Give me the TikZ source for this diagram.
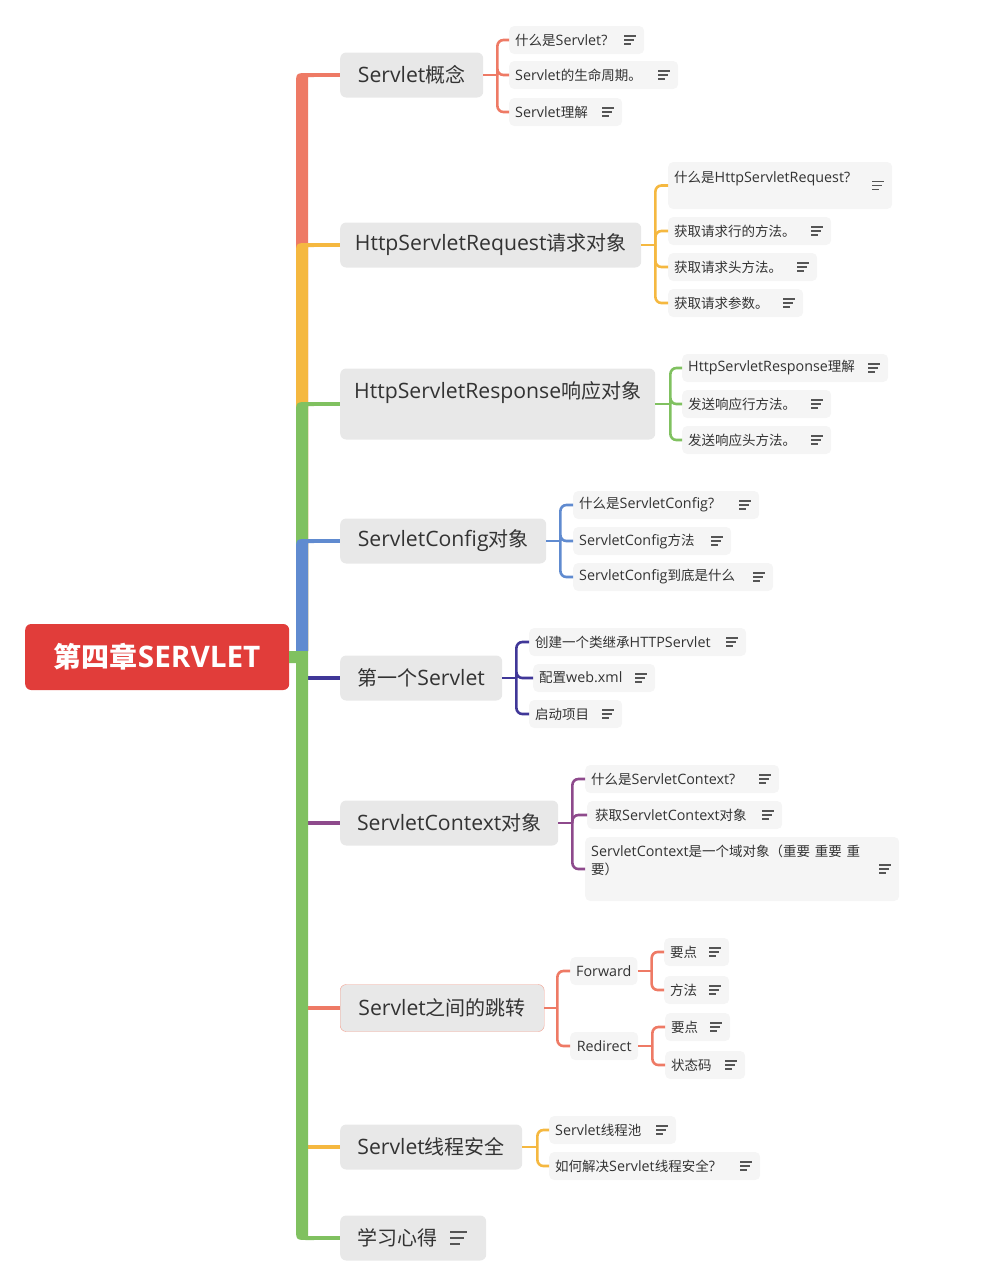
\documentclass[tikz,border=0pt]{standalone}
\usepackage{fontspec}
\setmainfont{Open Sans}[Scale=1.06]
\newfontfamily\cjkfont{Noto Sans CJK SC}
% Han characters and full-width punctuation go to the CJK face
\XeTeXinterchartokenstate=1
\newXeTeXintercharclass\cjkcls
\newcount\cjkcnt
\newcommand\cjkrange[2]{\cjkcnt=#1\relax
  \loop\XeTeXcharclass\cjkcnt=\cjkcls
  \ifnum\cjkcnt<#2\relax\advance\cjkcnt by 1\repeat}
\cjkrange{"3000}{"303F}
\cjkrange{"4E00}{"9FFF}
\cjkrange{"FF00}{"FFEF}
\XeTeXinterchartoks 0 \cjkcls = {\begingroup\cjkfont}
\XeTeXinterchartoks 4095 \cjkcls = {\begingroup\cjkfont}
\XeTeXinterchartoks \cjkcls 0 = {\endgroup}
\XeTeXinterchartoks \cjkcls 4095 = {\endgroup}

\definecolor{rootred}{RGB}{225,61,58}
\definecolor{maingray}{RGB}{232,232,232}
\definecolor{subgray}{RGB}{245,245,245}
\definecolor{txt}{RGB}{51,51,51}
\definecolor{notegray}{RGB}{85,85,85}
\definecolor{salmon}{RGB}{238,122,101}
\definecolor{amber}{RGB}{245,184,64}
\definecolor{leaf}{RGB}{128,193,96}
\definecolor{sky}{RGB}{96,139,208}
\definecolor{indigo}{RGB}{64,55,152}
\definecolor{plum}{RGB}{142,74,140}
\definecolor{pinkline}{RGB}{242,160,144}

\tikzset{
  rootbox/.style={fill=rootred, rounded corners=6, minimum width=264, minimum height=66, anchor=west, inner sep=0, text=white, font=\fontsize{28}{32}\selectfont\bfseries},
  main/.style={fill=maingray, rounded corners=6, minimum height=45, inner xsep=0, inner ysep=0, anchor=west, text=txt, font=\fontsize{20}{24}\selectfont},
  sub/.style={fill=subgray, rounded corners=5, minimum height=28, inner xsep=6, inner ysep=0, anchor=west, align=left, text=txt, font=\fontsize{13.5}{18}\selectfont},
  link/.style={draw=#1, line width=4},
  br/.style={draw=#1, line width=2.6, rounded corners=6},
  noteline/.style={draw=notegray, line width=1.3},
}

% thick trunk piece going up from the root to a branch at height #2
\newcommand\trunkup[2]{\fill[#1] (296,651) -- (296,#2+10) .. controls (296,#2-2) .. (308,#2-2) -- (314,#2-2) -- (314,#2+2) -- (308,#2+2) -- (308,651) -- cycle;}
% note mark at the right end of a topic
\newcommand\notemark[1]{\draw[noteline] (#1.east) ++(-20,-4) -- ++(12,0) (#1.east) ++(-20,0) -- ++(10,0) (#1.east) ++(-20,4) -- ++(7,0);}

\begin{document}
\begin{tikzpicture}[x=1pt,y=1pt,yscale=-1]
\useasboundingbox (0,0) rectangle (987,1275);

% Root
\node[rootbox] (root) at (25,657) {第四章SERVLET};

% Main topics
\node[main, minimum width=143] (c1) at (340,75) {Servlet概念};
\node[main, minimum width=301] (c2) at (340,245) {HttpServletRequest请求对象};
\node[main, minimum width=315, text height=30pt, text depth=41pt] (c3) at (340,404) {HttpServletResponse响应对象};
\node[main, minimum width=206] (c4) at (340,541) {ServletConfig对象};
\node[main, minimum width=162] (c5) at (340,678) {第一个Servlet};
\node[main, minimum width=218] (c6) at (340,823) {ServletContext对象};
\node[main, minimum width=204, minimum height=47, draw=pinkline] (c7) at (340,1008) {Servlet之间的跳转};
\node[main, minimum width=182] (c8) at (340,1147) {Servlet线程安全};
\node[main, inner xsep=17, text width=112pt, align=left] (c9) at (340,1238) {学习心得};

% Subtopics
\node[sub, text width=123pt] (s11) at (509,40) {什么是Servlet?};
\node[sub, text width=157pt] (s12) at (509,75) {Servlet的生命周期。};
\node[sub, text width=101pt] (s13) at (509,112) {Servlet理解};

\node[sub, text width=212pt, text height=20pt, text depth=27pt] (s21) at (668,185.5) {什么是HttpServletRequest?};
\node[sub, text width=151pt] (s22) at (668,231) {获取请求行的方法。};
\node[sub, text width=137pt] (s23) at (668,267) {获取请求头方法。};
\node[sub, text width=123pt] (s24) at (668,303) {获取请求参数。};

\node[sub, text width=194pt] (s31) at (682,368) {HttpServletResponse理解};
\node[sub, text width=137pt] (s32) at (682,404) {发送响应行方法。};
\node[sub, text width=137pt] (s33) at (682,440) {发送响应头方法。};

\node[sub, text width=174pt] (s41) at (573,505) {什么是ServletConfig?};
\node[sub, text width=146pt] (s42) at (573,541) {ServletConfig方法};
\node[sub, text width=188pt] (s43) at (573,577) {ServletConfig到底是什么};

\node[sub, text width=205pt] (s51) at (529,642) {创建一个类继承HTTPServlet};
\node[sub, text width=110pt] (s52) at (533,678) {配置web.xml};
\node[sub, text width=81pt] (s53) at (529,714) {启动项目};

\node[sub, text width=182pt] (s61) at (585,779) {什么是ServletContext?};
\node[sub, inner xsep=8, text width=179pt] (s62) at (587,815) {获取ServletContext对象};
\node[sub, text width=302pt, text height=19pt, text depth=45pt] (s63) at (585,869) {ServletContext是一个域对象（重要 重要 重\\要）};

\node[sub, minimum width=67] (s71) at (570,971) {Forward};
\node[sub, minimum width=68] (s72) at (570,1046) {Redirect};
\node[sub, text width=53pt] (s711) at (664,952) {要点};
\node[sub, text width=53pt] (s712) at (664,990) {方法};
\node[sub, text width=53pt] (s721) at (665,1027) {要点};
\node[sub, text width=68pt] (s722) at (665,1065) {状态码};

\node[sub, text width=115pt] (s81) at (549,1130) {Servlet线程池};
\node[sub, text width=199pt] (s82) at (549,1166) {如何解决Servlet线程安全?};

% Trunk
\trunkup{salmon}{75}
\trunkup{amber}{245}
\trunkup{leaf}{404}
\trunkup{sky}{541}
\coordinate (k1) at (310,75);
\coordinate (k2) at (310,245);
\coordinate (k3) at (310,404);
\coordinate (k4) at (310,541);
\coordinate (k5) at (300,678);
\coordinate (k6) at (300,823);
\coordinate (k7) at (300,1008);
\coordinate (k8) at (300,1147);
\coordinate (k9) at (310,1238);
\draw[link=indigo] (k5) -- (c5.west);
\draw[link=plum] (k6) -- (c6.west);
\draw[link=salmon] (k7) -- (c7.west);
\draw[link=amber] (k8) -- (c8.west);
\fill[leaf] (289,651) -- (308,651) -- (308,1236) -- (314,1236) -- (314,1240) -- (308,1240) .. controls (296,1240) .. (296,1228) -- (296,663) -- (289,663) -- cycle;
\draw[link=salmon] (k1) -- (c1.west);
\draw[link=amber] (k2) -- (c2.west);
\draw[link=leaf] (k3) -- (c3.west);
\draw[link=sky] (k4) -- (c4.west);
\draw[link=leaf] (k9) -- (c9.west);

% Brackets
\coordinate (b1) at ([xshift=14]c1.east);
\coordinate (b2) at ([xshift=14]c2.east);
\coordinate (b3) at ([xshift=15]c3.east);
\coordinate (b4) at ([xshift=14]c4.east);
\coordinate (b5) at ([xshift=14]c5.east);
\coordinate (b6) at ([xshift=14]c6.east);
\coordinate (b7) at ([xshift=13]c7.east);
\coordinate (b71) at ([xshift=14]s71.east);
\coordinate (b72) at ([xshift=14]s72.east);
\coordinate (b8) at ([xshift=15]c8.east);
\draw[br=salmon] (c1.east) -- (b1);
\foreach \s in {s11,s12,s13} \draw[br=salmon] (b1) |- (\s.west);
\draw[br=amber] (c2.east) -- (b2);
\foreach \s in {s21,s22,s23,s24} \draw[br=amber] (b2) |- (\s.west);
\draw[br=leaf] (c3.east) -- (b3);
\foreach \s in {s31,s32,s33} \draw[br=leaf] (b3) |- (\s.west);
\draw[br=sky] (c4.east) -- (b4);
\foreach \s in {s41,s42,s43} \draw[br=sky] (b4) |- (\s.west);
\draw[br=indigo] (c5.east) -- (b5);
\foreach \s in {s51,s52,s53} \draw[br=indigo] (b5) |- (\s.west);
\draw[br=plum] (c6.east) -- (b6);
\foreach \s in {s61,s62,s63} \draw[br=plum] (b6) |- (\s.west);
\draw[br=salmon] (c7.east) -- (b7);
\foreach \s in {s71,s72} \draw[br=salmon] (b7) |- (\s.west);
\draw[br=salmon] (s71.east) -- (b71);
\foreach \s in {s711,s712} \draw[br=salmon] (b71) |- (\s.west);
\draw[br=salmon] (s72.east) -- (b72);
\foreach \s in {s721,s722} \draw[br=salmon] (b72) |- (\s.west);
\draw[br=amber] (c8.east) -- (b8);
\foreach \s in {s81,s82} \draw[br=amber] (b8) |- (\s.west);

% Notes
\foreach \n in {s11,s12,s13,s21,s22,s23,s24,s31,s32,s33,s41,s42,s43,s51,s52,s53,s61,s62,s63,s711,s712,s721,s722,s81,s82} \notemark{\n};
\draw[noteline, line width=1.8] (c9.east) ++(-36,-6) -- ++(17,0) (c9.east) ++(-36,0) -- ++(14,0) (c9.east) ++(-36,6) -- ++(10,0);

\end{tikzpicture}
\end{document}
